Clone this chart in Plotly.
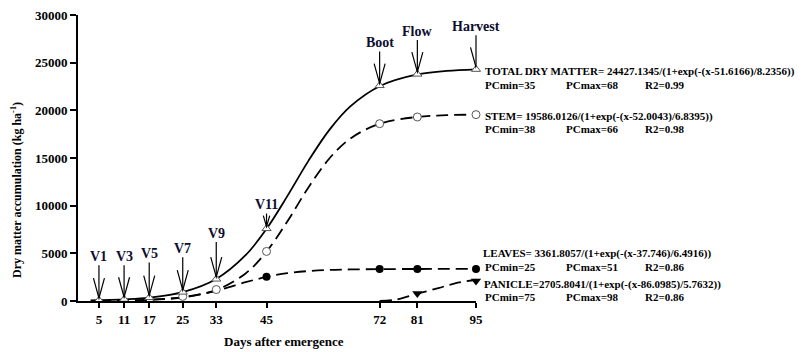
import plotly.graph_objects as go

# ---------------- data ----------------
stage_days = [5, 11, 17, 25, 33, 45, 72, 81, 95]
stage_labels = ["V1", "V3", "V5", "V7", "V9", "V11", "Boot", "Flow", "Harvest"]
total_obs = [85, 180, 360, 930, 2300, 7600, 22600, 23800, 24300]

stem_days = [25, 33, 45, 72, 81, 95]
stem_obs = [480, 1200, 5200, 18600, 19300, 19550]

leaves_days = [45, 72, 81, 95]
leaves_obs = [2550, 3350, 3360, 3360]

panicle_days = [81, 95]
panicle_obs = [780, 2100]

total_curve_days = [3, 5, 11, 17, 25, 33, 40, 45, 50, 55, 60, 65, 72, 81, 88, 95]
total_curve = [60, 85, 180, 360, 930, 2310, 4800, 7570, 11030, 14700, 17950,
               20410, 22530, 23760, 24130, 24300]

part_curve_days = [5, 11, 17, 25, 33, 40, 45, 50, 55, 60, 65, 72, 81, 88, 95]
stem_curve = [20, 50, 120, 370, 1150, 2890, 5180, 8370, 11910, 14950, 17040,
              18590, 19310, 19490, 19550]
leaves_curve = [20, 55, 130, 410, 1090, 1970, 2530, 2920, 3140, 3260, 3310,
                3345, 3358, 3361, 3361]

panicle_curve_days = [72, 76, 81, 86, 90, 95]
panicle_curve = [0, 150, 760, 1350, 1850, 2230]

x_ticks = [5, 11, 17, 25, 33, 45, 72, 81, 95]
y_ticks = [0, 5000, 10000, 15000, 20000, 25000, 30000]

eq_texts = [
    "TOTAL DRY MATTER= 24427.1345/(1+exp(-(x-51.6166)/8.2356))",
    "STEM= 19586.0126/(1+exp(-(x-52.0043)/6.8395))",
    "LEAVES= 3361.8057/(1+exp(-(x-37.746)/6.4916))",
    "PANICLE=2705.8041/(1+exp(-(x-86.0985)/5.7632))",
]
pcmin_texts = ["PCmin=35", "PCmin=38", "PCmin=25", "PCmin=75"]
pcmax_texts = ["PCmax=68", "PCmax=66", "PCmax=51", "PCmax=98"]
r2_texts = ["R2=0.99", "R2=0.98", "R2=0.86", "R2=0.86"]

# ---------------- layout helpers ----------------
FONT = "Liberation Serif, Times New Roman, serif"
L, R, T, B = 78, 331, 15, 51
W, H = 807, 352
PW, PH = W - L - R, H - T - B


def px_x(p):
    return (p - L) / PW


def px_y(p):
    return (H - B - p) / PH


label_rise = [-44, -43, -44, -44, -46, -24, -43, -43, -43]
head_len = [22, 22, 22, 22, 22, 13, 22, 22, 22]
eq_y_px = [71, 116, 253, 284]
stat_y_px = [85, 129, 267, 297]
eq_x_px = [483, 483, 481, 482]
stat_cols_px = [483, 564, 643]

fig = go.Figure()

line_w = 1.8
dash = "12px,6px"

fig.add_trace(go.Scatter(x=part_curve_days, y=leaves_curve, mode="lines",
                         line=dict(color="black", width=line_w, dash=dash, shape="spline"),
                         hoverinfo="skip", cliponaxis=False))
fig.add_trace(go.Scatter(x=part_curve_days, y=stem_curve, mode="lines",
                         line=dict(color="black", width=line_w, dash=dash, shape="spline"),
                         hoverinfo="skip", cliponaxis=False))
fig.add_trace(go.Scatter(x=panicle_curve_days, y=panicle_curve, mode="lines",
                         line=dict(color="black", width=line_w, dash=dash, shape="spline"),
                         hoverinfo="skip", cliponaxis=False))
fig.add_trace(go.Scatter(x=total_curve_days, y=total_curve, mode="lines",
                         line=dict(color="black", width=line_w, shape="spline"),
                         hoverinfo="skip", cliponaxis=False))

fig.add_trace(go.Scatter(x=stem_days, y=stem_obs, mode="markers",
                         marker=dict(symbol="circle", size=8, color="white",
                                     line=dict(color="#555555", width=1)),
                         cliponaxis=False))
fig.add_trace(go.Scatter(x=leaves_days, y=leaves_obs, mode="markers",
                         marker=dict(symbol="circle", size=8, color="black"),
                         cliponaxis=False))
fig.add_trace(go.Scatter(x=panicle_days, y=panicle_obs, mode="markers",
                         marker=dict(symbol="triangle-down", size=9, color="black"),
                         cliponaxis=False))
fig.add_trace(go.Scatter(x=stage_days, y=total_obs, mode="markers",
                         marker=dict(symbol="triangle-up", size=8, color="white",
                                     line=dict(color="#555555", width=1)),
                         cliponaxis=False))

annotations = []
shapes = []
for d, v, lab, rise, hl in zip(stage_days, total_obs, stage_labels, label_rise, head_len):
    annotations.append(dict(x=d, y=v, xref="x", yref="y", text=lab, showarrow=True,
                            ax=0, ay=rise, arrowhead=0, arrowwidth=1.2,
                            arrowcolor="black", standoff=2,
                            font=dict(family=FONT, size=14, color="#0d0d30", weight="bold")))
    shapes.append(dict(type="path", xref="x", yref="y",
                       xsizemode="pixel", ysizemode="pixel",
                       xanchor=d, yanchor=v,
                       path=f"M-{hl / 4:.1f},{hl} L0,2 L{hl / 4:.1f},{hl}",
                       line=dict(color="black", width=1.2)))

rfont = dict(family=FONT, size=11, color="black", weight="bold")
for i in range(4):
    annotations.append(dict(x=px_x(eq_x_px[i]), y=px_y(eq_y_px[i]), xref="paper", yref="paper",
                            text=eq_texts[i], showarrow=False, xanchor="left", yanchor="middle",
                            font=rfont))
    for col, txt in zip(stat_cols_px, [pcmin_texts[i], pcmax_texts[i], r2_texts[i]]):
        annotations.append(dict(x=px_x(col), y=px_y(stat_y_px[i]), xref="paper", yref="paper",
                                text=txt, showarrow=False, xanchor="left", yanchor="middle",
                                font=rfont))

annotations.append(dict(x=px_x(16), y=px_y(190), xref="paper", yref="paper",
                        text="Dry matter accumulation (kg ha<sup>-1</sup>)", textangle=-90,
                        showarrow=False, xanchor="center", yanchor="middle",
                        font=dict(family=FONT, size=12, color="black", weight="bold")))
annotations.append(dict(x=px_x(284), y=px_y(341), xref="paper", yref="paper",
                        text="Days after emergence",
                        showarrow=False, xanchor="center", yanchor="middle",
                        font=dict(family=FONT, size=13, color="black", weight="bold")))

tickfont = dict(family=FONT, size=13, color="black", weight="bold")
fig.update_layout(
    width=W, height=H,
    margin=dict(l=L, r=R, t=T, b=B, pad=0, autoexpand=False),
    paper_bgcolor="white", plot_bgcolor="white",
    showlegend=False,
    annotations=annotations,
    shapes=shapes,
    xaxis=dict(range=[0, 95], tickvals=x_ticks, ticktext=[str(t) for t in x_ticks],
               showgrid=False, zeroline=False, showline=True, linecolor="black", linewidth=2,
               ticks="outside", ticklen=5, tickwidth=1.5, tickcolor="black",
               tickfont=tickfont, fixedrange=True, automargin=False),
    yaxis=dict(range=[0, 30000], tickvals=y_ticks, ticktext=[str(t) for t in y_ticks],
               showgrid=False, zeroline=False, showline=True, linecolor="black", linewidth=2,
               ticks="outside", ticklen=6, tickwidth=1.5, tickcolor="black",
               tickfont=tickfont, fixedrange=True, automargin=False),
)

fig.write_html("out.html", config={"displayModeBar": False},
               post_script="document.body.style.margin='0px';document.body.style.overflow='hidden';")
